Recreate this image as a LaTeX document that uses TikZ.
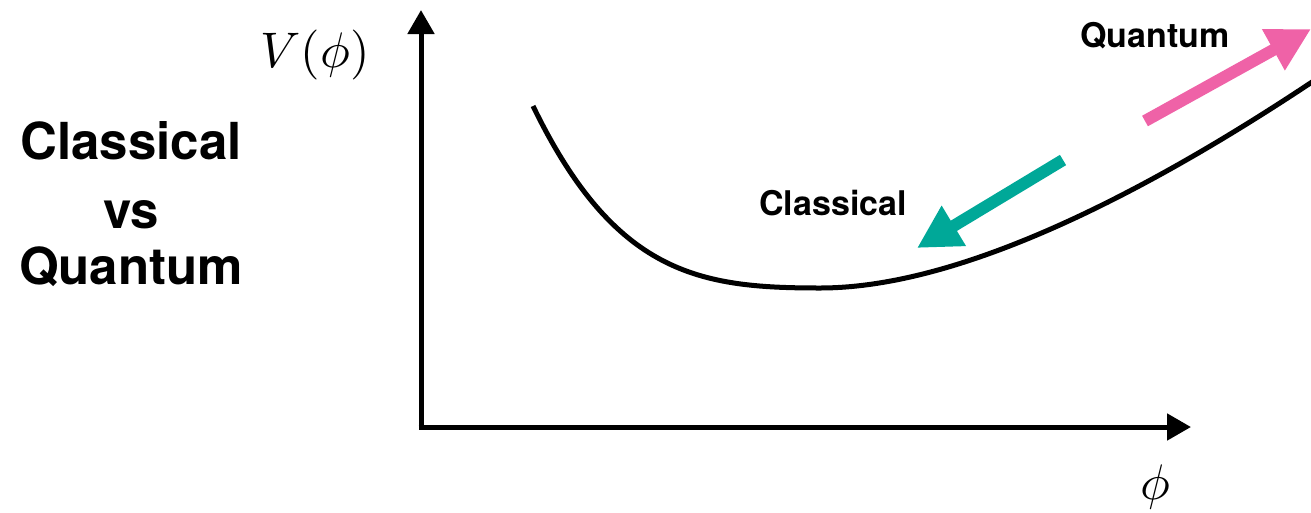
\documentclass[tikz,border=0pt]{standalone}
\usepackage{fontspec}
\setsansfont{TeX Gyre Heros}
\usetikzlibrary{arrows.meta}
\definecolor{teal1}{RGB}{0,168,152}
\definecolor{pink1}{RGB}{239,98,167}
\begin{document}
\begin{tikzpicture}[x=1pt,y=-1pt,
  axis/.style={line width=5pt,-{Triangle[length=24pt,width=26pt]}},
  bigarrow/.style={line width=12pt,-{Triangle[length=43pt,width=44pt]}},
  bigtxt/.style={font=\sffamily\bfseries\fontsize{51}{55}\selectfont,inner sep=0pt,anchor=base},
  smalltxt/.style={font=\sffamily\bfseries\fontsize{34}{38}\selectfont,inner sep=0pt},
  mathtxt/.style={scale=5,inner sep=0pt}]
\useasboundingbox (0,0) rectangle (1311,512);
% axes
\coordinate (O) at (421,427);
\coordinate (ytip) at (421,10);
\coordinate (xtip) at (1191,427);
\draw[axis] (421,429.5) -- (ytip);
\draw[axis] (418.5,427) -- (xtip);
% curve
\coordinate (p0) at (533,106);
\coordinate (pm) at (820,288);
\coordinate (p1) at (1315,80);
\draw[line width=5pt] (p0) .. controls (615,275) and (700,288) .. (pm)
  .. controls (970,288) and (1165,180) .. (p1);
% arrows
\coordinate (c1) at (1063,160);
\coordinate (c2) at (917,248);
\draw[bigarrow,teal1] (c1) -- (c2);
\coordinate (q1) at (1145,121);
\coordinate (q2) at (1311,29);
\draw[bigarrow,pink1] (q1) -- (q2);
% labels
\node[smalltxt] (lc) at (833,203) {Classical};
\node[smalltxt] (lq) at (1155,36) {Quantum};
\node[mathtxt] (lv) at (315,55) {$V(\phi)$};
\node[mathtxt] (lp) at (1155,487) {$\phi$};
\node[bigtxt] (t1) at (131,159) {Classical};
\node[bigtxt] (t2) at (131,228) {vs};
\node[bigtxt] (t3) at (131,284) {Quantum};
\end{tikzpicture}
\end{document}
